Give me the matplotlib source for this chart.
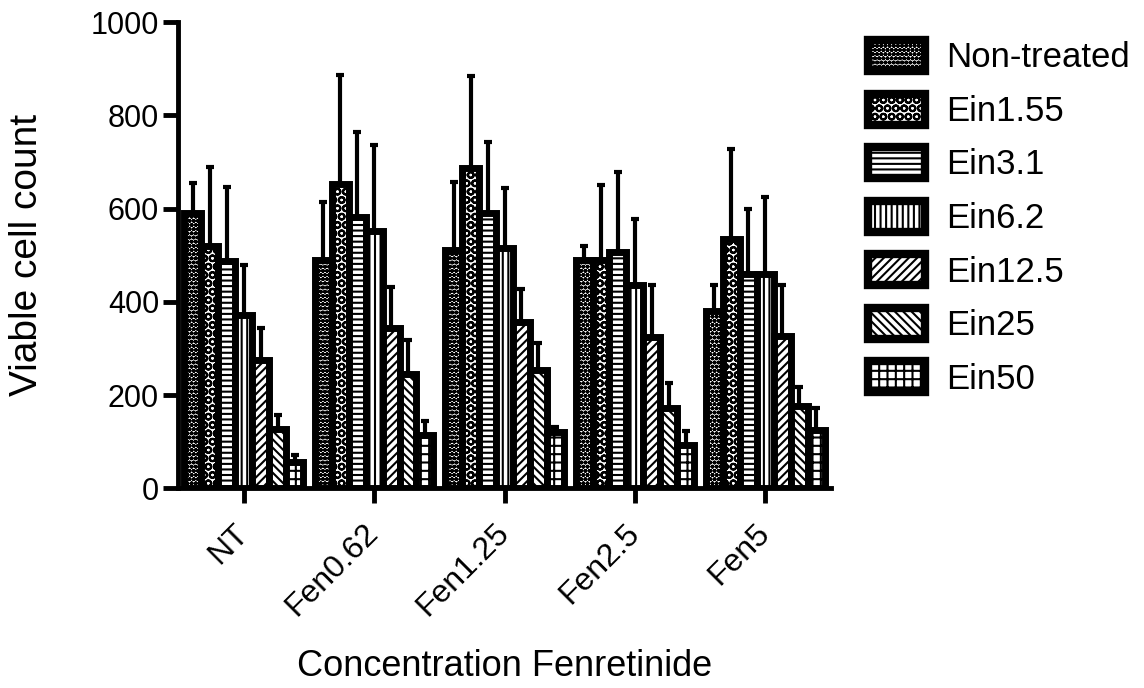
import numpy as np
import matplotlib.pyplot as plt

plt.rcParams["font.family"] = ["Liberation Sans", "DejaVu Sans"]
plt.rcParams["hatch.linewidth"] = 1.5

groups = ["NT", "Fen0.62", "Fen1.25", "Fen2.5", "Fen5"]
series = ["Non-treated", "Ein1.55", "Ein3.1", "Ein6.2", "Ein12.5", "Ein25", "Ein50"]

# mean viable cell count per series, one value per group
non_treated = [590, 490, 511, 490, 380]
ein1_55 = [520, 652, 687, 490, 534]
ein3_1 = [488, 583, 590, 506, 459]
ein6_2 = [372, 551, 516, 437, 459]
ein12_5 = [276, 343, 357, 325, 326]
ein25 = [128, 245, 254, 172, 177]
ein50 = [57, 114, 121, 94, 125]

# upper error (SD) per series
non_treated_err = [65, 124, 147, 30, 56]
ein1_55_err = [170, 235, 198, 161, 194]
ein3_1_err = [159, 181, 152, 173, 141]
ein6_2_err = [107, 186, 129, 141, 165]
ein12_5_err = [67, 90, 70, 112, 110]
ein25_err = [30, 73, 58, 54, 41]
ein50_err = [14, 31, 10, 30, 47]

means = [non_treated, ein1_55, ein3_1, ein6_2, ein12_5, ein25, ein50]
errs = [non_treated_err, ein1_55_err, ein3_1_err, ein6_2_err,
        ein12_5_err, ein25_err, ein50_err]
hatches = ["oooo", "OO", "---", "|||", "////", "\\\\\\\\", "++"]

fig = plt.figure(figsize=(11.44, 6.88), dpi=100)
ax = fig.add_axes([0.156, 0.29, 0.57, 0.678])

x = np.arange(len(groups))
w = 0.13

for j in range(len(series)):
    pos = x + (j - 3) * w
    ax.bar(pos, means[j], width=w, color="white", edgecolor="black",
           linewidth=5, hatch=hatches[j], label=series[j], zorder=2)
    ax.errorbar(pos, means[j], yerr=[np.zeros(len(groups)), errs[j]],
                fmt="none", ecolor="black", elinewidth=3, capsize=3,
                capthick=3, zorder=1)

ax.set_xlim(-0.5, 4.5)
ax.set_ylim(0, 1000)
ax.set_yticks([0, 200, 400, 600, 800, 1000])
ax.set_xticks(x)
ax.set_xticklabels(groups, rotation=45, ha="right", va="center",
                   rotation_mode="anchor")

for side in ["top", "right"]:
    ax.spines[side].set_visible(False)
for side in ["left", "bottom"]:
    ax.spines[side].set_linewidth(3.5)
ax.tick_params(width=3.5, length=11, labelsize=22, direction="out")
ax.tick_params(axis="x", pad=18, labelsize=23)
ax.tick_params(axis="y", pad=3)

ax.set_ylabel("Viable cell count", fontsize=28)
ax.yaxis.set_label_coords(-0.205, 0.5)
ax.set_xlabel("Concentration Fenretinide", fontsize=26)
ax.xaxis.set_label_coords(0.5, -0.345)

leg = fig.legend(loc="upper left", bbox_to_anchor=(868 / 1144, 1 - 40 / 688),
                 frameon=False, fontsize=25, handlelength=1.65,
                 handleheight=1.0, labelspacing=0.55, handletextpad=0.6,
                 borderpad=0, borderaxespad=0)
for h in leg.legend_handles:
    h.set_linewidth(6)

fig.savefig("out.png", dpi=100)
